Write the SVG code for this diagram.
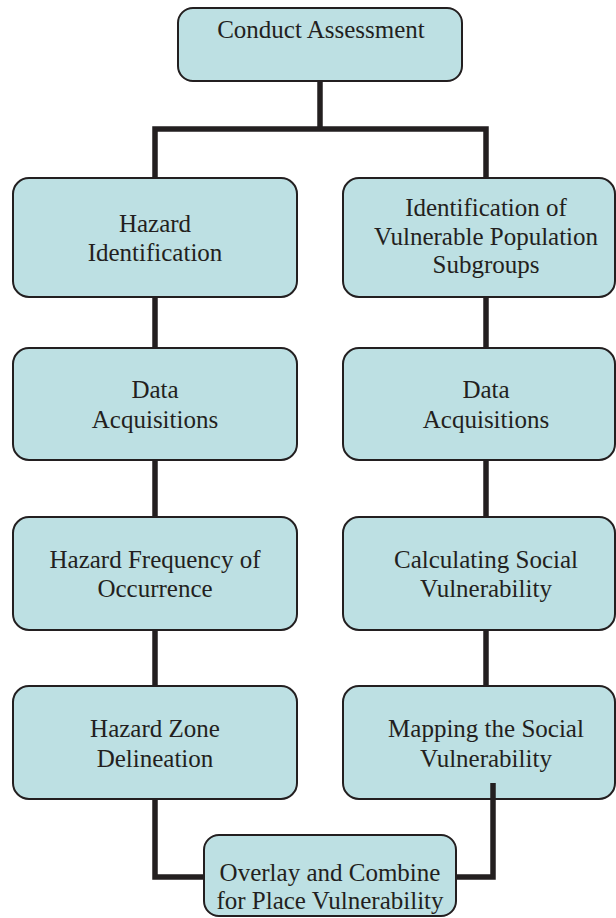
<svg xmlns="http://www.w3.org/2000/svg" width="616" height="918" viewBox="0 0 616 918">
  <style>
    .box { fill: #bde0e3; stroke: #231f20; stroke-width: 2; }
    .lbl { font-family: "Liberation Serif", "Times New Roman", serif; font-size: 25px; fill: #231f20; text-anchor: middle; }
    .conn { fill: none; stroke: #231f20; stroke-width: 5.5; stroke-linejoin: miter; stroke-linecap: butt; }
  </style>
  <rect width="616" height="918" fill="#ffffff"/>
  <g id="connectors">
    <path class="conn" d="M320,81 V129"/>
    <path class="conn" d="M155,178 V129 H486 V178"/>
    <path class="conn" d="M155,297 V348"/>
    <path class="conn" d="M155,460 V517"/>
    <path class="conn" d="M155,630 V686"/>
    <path class="conn" d="M486,297 V348"/>
    <path class="conn" d="M486,460 V517"/>
    <path class="conn" d="M486,630 V686"/>
    <path class="conn" d="M155,799 V877 H205"/>
  </g>
  <g id="n-conduct">
    <rect class="box" x="178" y="8" width="284" height="73" rx="15"/>
    <text class="lbl" x="321" y="38">Conduct Assessment</text>
  </g>
  <g id="n-hazard-id">
    <rect class="box" x="13" y="178" width="284" height="119" rx="16"/>
    <text class="lbl" x="155" y="232">Hazard</text>
    <text class="lbl" x="155" y="261">Identification</text>
  </g>
  <g id="n-vuln-id">
    <rect class="box" x="343" y="178" width="272" height="119" rx="16"/>
    <text class="lbl" x="486" y="216">Identification of</text>
    <text class="lbl" x="486" y="245">Vulnerable Population</text>
    <text class="lbl" x="486" y="273">Subgroups</text>
  </g>
  <g id="n-data-left">
    <rect class="box" x="13" y="348" width="284" height="112" rx="16"/>
    <text class="lbl" x="155" y="398">Data</text>
    <text class="lbl" x="155" y="428">Acquisitions</text>
  </g>
  <g id="n-data-right">
    <rect class="box" x="343" y="348" width="272" height="112" rx="16"/>
    <text class="lbl" x="486" y="398">Data</text>
    <text class="lbl" x="486" y="428">Acquisitions</text>
  </g>
  <g id="n-frequency">
    <rect class="box" x="13" y="517" width="284" height="113" rx="16"/>
    <text class="lbl" x="155" y="568">Hazard Frequency of</text>
    <text class="lbl" x="155" y="597">Occurrence</text>
  </g>
  <g id="n-calc">
    <rect class="box" x="343" y="517" width="272" height="113" rx="16"/>
    <text class="lbl" x="486" y="568">Calculating Social</text>
    <text class="lbl" x="486" y="597">Vulnerability</text>
  </g>
  <g id="n-zone">
    <rect class="box" x="13" y="686" width="284" height="113" rx="16"/>
    <text class="lbl" x="155" y="737">Hazard Zone</text>
    <text class="lbl" x="155" y="767">Delineation</text>
  </g>
  <g id="n-mapping">
    <rect class="box" x="343" y="686" width="272" height="113" rx="16"/>
    <text class="lbl" x="486" y="737">Mapping the Social</text>
    <text class="lbl" x="486" y="767">Vulnerability</text>
  </g>
  <g id="connectors-over">
    <path class="conn" d="M493,783 V877 H455"/>
  </g>
  <g id="n-overlay">
    <rect class="box" x="204" y="835" width="252" height="81" rx="15"/>
    <text class="lbl" x="330" y="881">Overlay and Combine</text>
    <text class="lbl" x="330" y="909">for Place Vulnerability</text>
  </g>
</svg>
